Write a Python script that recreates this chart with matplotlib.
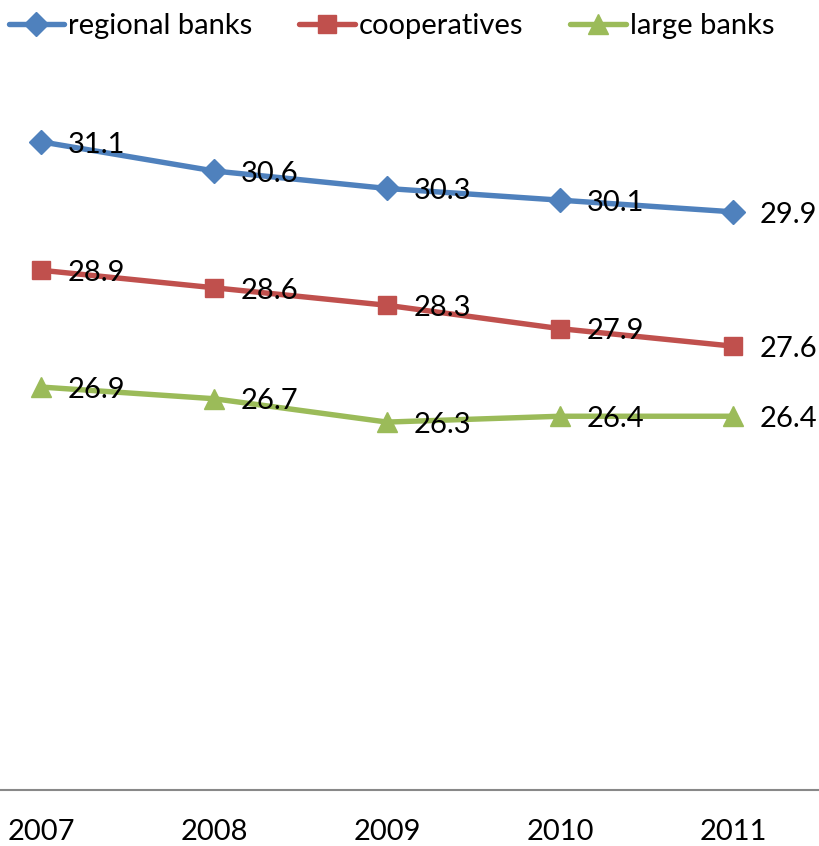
#!/usr/bin/env python3
"""Line chart: regional banks vs cooperatives vs large banks, 2007-2011."""
import matplotlib
matplotlib.use("Agg")
import matplotlib.pyplot as plt

years = ["2007", "2008", "2009", "2010", "2011"]
regional = [31.1, 30.6, 30.3, 30.1, 29.9]
cooperatives = [28.9, 28.6, 28.3, 27.9, 27.6]
large = [26.9, 26.7, 26.3, 26.4, 26.4]

plt.rcParams["font.family"] = ["Lato", "DejaVu Sans"]


def main():
    fig = plt.figure(figsize=(8.19, 8.46), dpi=100)
    ax = fig.add_axes([0, 56 / 846, 1, (790 - 89.2) / 846])

    x = range(len(years))
    series = [
        ("regional banks", regional, "#4F81BD", "D", 12),
        ("cooperatives", cooperatives, "#C0504D", "s", 13),
        ("large banks", large, "#9BBB59", "^", 15),
    ]
    for name, vals, color, marker, ms in series:
        ax.plot(x, vals, color=color, lw=3.9, marker=marker, markersize=ms,
                label=name, solid_capstyle="round")
        for xi, v in zip(x, vals):
            ax.annotate(f"{v:.1f}", (xi, v), xytext=(19, -2),
                        textcoords="offset points", ha="left", va="center",
                        fontsize=21)

    ax.set_xlim(-41 / 173, 778 / 173)
    ax.set_ylim(20, 32)
    ax.set_xticks(list(x))
    ax.set_xticklabels(years, fontsize=21)
    ax.tick_params(axis="x", length=0, pad=21)
    ax.set_yticks([])
    for s in ["top", "right", "left"]:
        ax.spines[s].set_visible(False)
    ax.spines["bottom"].set_color("#888888")
    ax.spines["bottom"].set_linewidth(1.5)

    fig.legend(loc="upper center", bbox_to_anchor=(0.478, 1.005), ncol=3,
               frameon=False, fontsize=21, handlelength=1.9,
               handletextpad=0.15, columnspacing=1.6, borderaxespad=0.2)

    fig.savefig("out.png", dpi=100, facecolor="white")
    plt.close(fig)


if __name__ == "__main__":
    main()
